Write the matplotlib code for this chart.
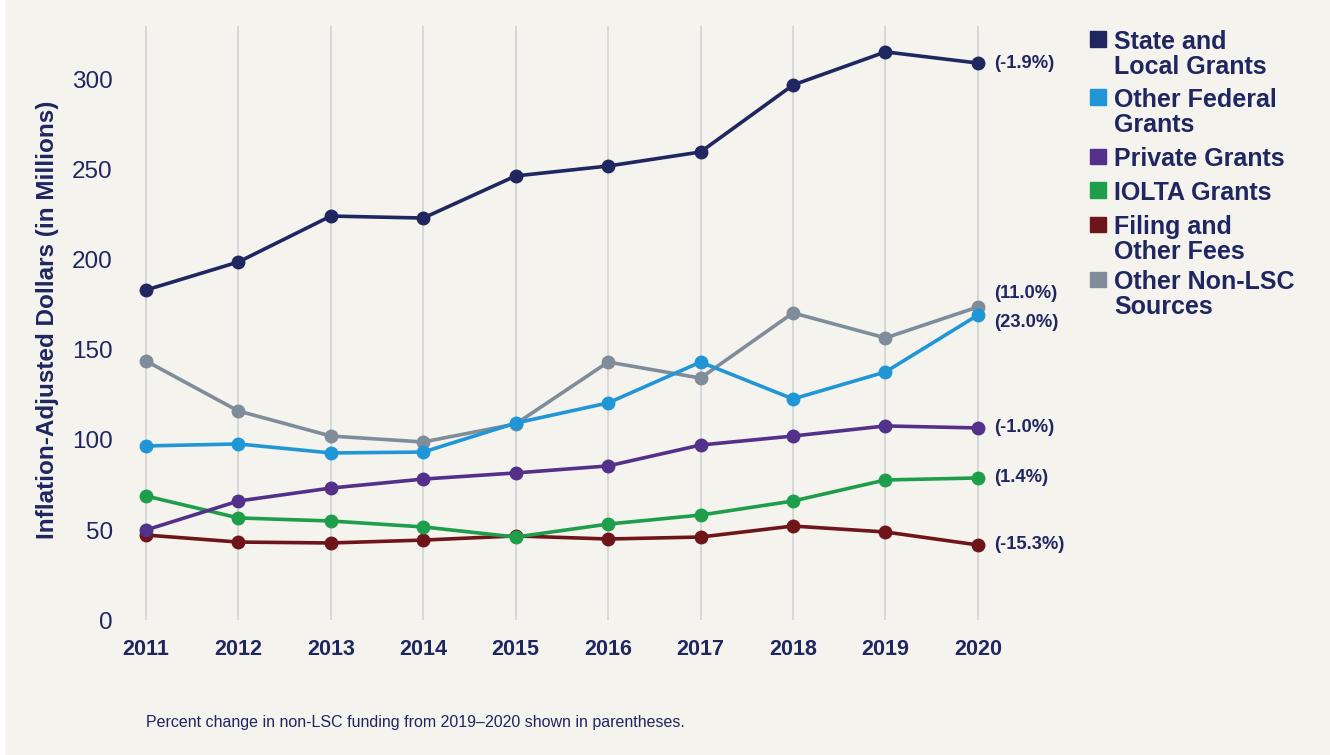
import matplotlib.pyplot as plt
from matplotlib.patches import Rectangle

# ── Data ──────────────────────────────────────────────────────
years = [2011, 2012, 2013, 2014, 2015, 2016, 2017, 2018, 2019, 2020]

state_local = [183.3, 198.9, 224.4, 223.3, 246.7, 252.2, 260.0, 297.2, 315.6, 309.4]
other_federal = [96.7, 97.8, 92.8, 93.3, 109.4, 120.6, 143.3, 122.8, 137.8, 169.4]
private = [50.0, 66.1, 73.3, 78.3, 81.7, 85.6, 97.2, 102.2, 107.8, 106.7]
iolta = [68.9, 56.7, 55.0, 51.7, 46.1, 53.3, 58.3, 66.1, 77.8, 78.9]
filing = [47.2, 43.3, 42.8, 44.4, 46.7, 45.0, 46.1, 52.2, 48.9, 41.7]
other_non_lsc = [143.9, 116.1, 102.2, 98.9, 108.9, 143.3, 134.4, 170.6, 156.7, 173.9]

series_names = ["State and\nLocal Grants", "Other Federal\nGrants", "Private Grants",
                "IOLTA Grants", "Filing and\nOther Fees", "Other Non-LSC\nSources"]
pct_labels = ["(-1.9%)", "(23.0%)", "(-1.0%)", "(1.4%)", "(-15.3%)", "(11.0%)"]

# ── Style ─────────────────────────────────────────────────────
BG = "#f4f3ee"
NAVY = "#1f2660"
COLORS = ["#1f2660", "#2196d6", "#53308a", "#1e9e4a", "#6e1519", "#7f8c99"]
FONT = "Liberation Sans"
W, H = 1330, 755

fig = plt.figure(figsize=(13.3, 7.55), dpi=100, facecolor=BG)
ax = fig.add_axes([0.0889, 0.1788, 0.6672, 0.7868])
ax.set_facecolor(BG)
fig.patches.append(Rectangle((0, 0), 4 / W, 1, transform=fig.transFigure,
                             color="white", zorder=0))

all_series = [state_local, other_federal, private, iolta, filing, other_non_lsc]
draw_order = [5, 4, 3, 2, 1, 0]
for i in draw_order:
    ax.plot(years, all_series[i], color=COLORS[i], linewidth=2.6,
            marker="o", markersize=9, zorder=3 + (5 - i) * 0.1)

# percent-change labels next to 2020 points (offsets in points)
offsets = [0, 5, 0, 0, 0, -10]
for i, lab in enumerate(pct_labels):
    ax.annotate(lab, (years[-1], all_series[i][-1]),
                xytext=(12, -offsets[i]), textcoords="offset points",
                ha="left", va="center", fontsize=13.2, fontweight="bold",
                color=NAVY, family=FONT, annotation_clip=False)

ax.set_xlim(2010.7, 2020.3)
ax.set_ylim(0, 330)
ax.set_xticks(years)
ax.set_yticks([0, 50, 100, 150, 200, 250, 300])
ax.grid(axis="x", color="#d0d2d3", linewidth=1.2, zorder=0)
ax.grid(axis="y", visible=False)
for s in ax.spines.values():
    s.set_visible(False)
ax.tick_params(axis="both", length=0)
ax.tick_params(axis="x", pad=14)
ax.tick_params(axis="y", pad=4)
for t in ax.get_xticklabels():
    t.set_fontsize(15.5)
    t.set_fontweight("bold")
    t.set_color(NAVY)
    t.set_family(FONT)
for t in ax.get_yticklabels():
    t.set_fontsize(17.5)
    t.set_color(NAVY)
    t.set_family(FONT)

ax.set_ylabel("Inflation-Adjusted Dollars (in Millions)", fontsize=17.5,
              fontweight="bold", color=NAVY, family=FONT, va="center")
ax.yaxis.set_label_coords(-0.08, 0.505)

# ── Legend (manual) ───────────────────────────────────────────
cap_tops = [30, 88, 147, 181, 215, 270]   # pixel y of first text line cap top
for i, name in enumerate(series_names):
    ytop = 1 - cap_tops[i] / H
    fig.patches.append(Rectangle((1090 / W, ytop - 17 / H), 16 / W, 15.5 / H,
                                 transform=fig.transFigure, color=COLORS[i]))
    fig.text(1114 / W, ytop, name, ha="left", va="top",
             fontsize=18, fontweight="bold", color=NAVY, family=FONT,
             linespacing=1.04)

fig.text(146 / W, 1 - 722 / H,
         "Percent change in non-LSC funding from 2019\u20132020 shown in parentheses.",
         ha="left", va="center", fontsize=11.5, color=NAVY,
         family=["Liberation Sans Narrow", FONT])

fig.savefig("out.png", dpi=100, facecolor=BG)
